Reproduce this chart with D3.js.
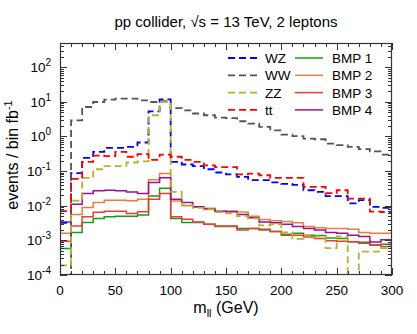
<!DOCTYPE html>
<html><head><meta charset="utf-8">
<script src="https://cdn.jsdelivr.net/npm/d3@7"></script>
<style>
body{margin:0;background:#fff}
text{font-family:"Liberation Sans",Arial,sans-serif;fill:#000}
</style>
</head><body>
<svg id="c" width="417" height="334"></svg>
<script>
// ---- data (10 GeV bins, 0..300 GeV) ----
const binEdges = d3.range(0, 301, 10);
const WZ = [0.0032,0.087,0.24,0.36,0.47,0.47,0.50,0.67,5.3,11.8,0.185,0.155,0.14,0.113,0.091,0.080,0.068,0.055,0.055,0.047,0.043,0.040,0.028,0.025,0.019,0.019,0.0117,0.0145,0.0093,0.0087];
const WW = [0,2.9,7.1,9.9,11.6,12.4,12.4,11.0,9.9,10.5,6.6,5.7,4.6,4.1,3.5,3.4,2.75,2.35,1.9,1.5,1.13,1.03,0.87,0.83,0.62,0.56,0.50,0.43,0.37,0.30];
const ZZ = [0.00019,0.014,0.064,0.113,0.14,0.14,0.177,0.19,4.1,9.9,0.025,0.0104,0.0087,0.0080,0.0065,0.0060,0.0050,0.0043,0.0027,0.0029,0.0017,0.0011,0.0014,0.0013,0.0006,0.0013,0,0.00047,0.00047,0.0006];
const TT = [0.007,0.06,0.185,0.28,0.27,0.36,0.26,0.31,0.21,0.30,0.26,0.21,0.185,0.146,0.13,0.13,0.080,0.085,0.076,0.064,0.064,0.064,0.035,0.035,0.023,0.028,0.016,0.016,0.0068,0.0066];
const BMP1 = [0.00058,0.0017,0.0033,0.0043,0.0048,0.0050,0.0050,0.0054,0.019,0.032,0.0043,0.0033,0.0033,0.0029,0.0025,0.0025,0.0022,0.0022,0.0021,0.0018,0.0014,0.0016,0.0014,0.00138,0.00118,0.00114,0.00091,0.00088,0.00074,0.00077];
const BMP2 = [0.0016,0.0056,0.0089,0.0124,0.0145,0.0145,0.014,0.0155,0.056,0.085,0.0136,0.0100,0.0092,0.0078,0.0068,0.0070,0.0066,0.0050,0.0040,0.0037,0.0035,0.0032,0.0025,0.0023,0.0022,0.0022,0.0021,0.0017,0.0016,0.0016];
const BMP3 = [0.00094,0.0026,0.0048,0.0065,0.0069,0.0069,0.0060,0.0067,0.0155,0.0226,0.0048,0.0041,0.0034,0.0029,0.0026,0.0026,0.0020,0.0022,0.0020,0.0018,0.0015,0.0014,0.00126,0.00114,0.00098,0.00094,0.00091,0.00082,0.00074,0.00066];
const BMP4 = [0.0034,0.011,0.0226,0.027,0.028,0.027,0.025,0.0226,0.047,0.064,0.0155,0.0124,0.0093,0.0083,0.0069,0.0067,0.0056,0.0045,0.0034,0.0032,0.0029,0.0025,0.0022,0.0020,0.0017,0.0016,0.0014,0.0013,0.0009,0.00105];
const xTickValues = [0,50,100,150,200,250,300];
const yTickExponents = [-4,-3,-2,-1,0,1,2];

const backgrounds = [
  {name:"WZ", values:WZ, color:"#0000ff"},
  {name:"WW", values:WW, color:"#555555"},
  {name:"ZZ", values:ZZ, color:"#b4b42c"},
  {name:"tt", values:TT, color:"#ff0000"}
];
const signals = [
  {name:"BMP 1", values:BMP1, color:"#10a010"},
  {name:"BMP 2", values:BMP2, color:"#e8803c"},
  {name:"BMP 3", values:BMP3, color:"#f03a3a"},
  {name:"BMP 4", values:BMP4, color:"#9a109a"}
];

// ---- layout ----
const L=60, R=392, T=43, B=275;
const svg = d3.select("#c");
const x = d3.scaleLinear().domain([0,300]).range([L,R]);
const y = d3.scaleLog().domain([1e-4,500]).range([B,T]);
const yv = v => v > 0 ? y(v) : y(1e-7);

svg.append("defs").append("clipPath").attr("id","clip")
  .append("rect").attr("x",L).attr("y",T).attr("width",R-L).attr("height",B-T);

const line = d3.line().curve(d3.curveStepAfter).x(d=>x(d[0])).y(d=>yv(d[1]));
const pts = vals => binEdges.map((e,i)=>[e, vals[Math.min(i, vals.length-1)]]);

const g = svg.append("g").attr("clip-path","url(#clip)");
signals.forEach(s=>{
  g.append("path").attr("d",line(pts(s.values))).attr("fill","none")
   .attr("stroke",s.color).attr("stroke-width",1.5);
});
backgrounds.forEach(s=>{
  g.append("path").attr("d",line(pts(s.values))).attr("fill","none")
   .attr("stroke",s.color).attr("stroke-width",1.8).attr("stroke-dasharray","7,4");
});

// ---- frame and ticks ----
const axCol = "#333";
svg.append("rect").attr("x",L+0.5).attr("y",T+0.5).attr("width",R-L-1).attr("height",B-T-1)
  .attr("fill","none").attr("stroke",axCol).attr("stroke-width",1.2);

const xMinor = d3.range(0,301,10);
xMinor.forEach(v=>{
  const major = v % 50 === 0;
  const len = major ? 7 : 4;
  const px = Math.round(x(v))+0.5;
  svg.append("line").attr("x1",px).attr("x2",px).attr("y1",B).attr("y2",B-len).attr("stroke",axCol);
  svg.append("line").attr("x1",px).attr("x2",px).attr("y1",T).attr("y2",T+len).attr("stroke",axCol);
});
const yAll = [];
for (let e=-4; e<=2; e++) for (let m=1; m<=9; m++) { const v=m*Math.pow(10,e); if (v<=500) yAll.push([v,m===1]); }
yAll.forEach(([v,major])=>{
  const len = major ? 7 : 4;
  const py = Math.round(y(v))+0.5;
  svg.append("line").attr("x1",L).attr("x2",L+len).attr("y1",py).attr("y2",py).attr("stroke",axCol);
  svg.append("line").attr("x1",R).attr("x2",R-len).attr("y1",py).attr("y2",py).attr("stroke",axCol);
});

// x tick labels
svg.append("g").selectAll("text").data(xTickValues).join("text")
  .attr("x",d=>x(d)).attr("y",B+20).attr("text-anchor","middle")
  .attr("font-size",13.5).text(d=>d);

// y tick labels
yTickExponents.forEach(e=>{
  const t = svg.append("text").attr("x",51).attr("y",y(Math.pow(10,e))+5)
    .attr("text-anchor","end").attr("font-size",13.5);
  t.append("tspan").text("10");
  t.append("tspan").attr("dy",-6).attr("font-size",10).text(e);
});

// axis titles
const xl = svg.append("text").attr("x",226).attr("y",313).attr("text-anchor","middle").attr("font-size",16);
xl.append("tspan").text("m");
xl.append("tspan").attr("dy",4).attr("font-size",11).text("ll");
xl.append("tspan").attr("dy",-4).text(" (GeV)");

const yl = svg.append("text").attr("transform","translate(18,155) rotate(-90)")
  .attr("text-anchor","middle").attr("font-size",16);
yl.append("tspan").text("events / bin fb");
yl.append("tspan").attr("dy",-6).attr("font-size",11).text("-1");

// title
const tt = svg.append("text").attr("x",226).attr("y",27).attr("text-anchor","middle").attr("font-size",15);
tt.append("tspan").text("pp collider, ");
tt.append("tspan").text("\u221As");
tt.append("tspan").text(" = 13 TeV, 2 leptons");

// legend
const rowY = i => 58 + i*17.3;
backgrounds.forEach((s,i)=>{
  svg.append("line").attr("x1",228).attr("x2",257).attr("y1",rowY(i)).attr("y2",rowY(i))
    .attr("stroke",s.color).attr("stroke-width",1.8).attr("stroke-dasharray","7,4");
  svg.append("text").attr("x",265).attr("y",rowY(i)+5).attr("font-size",13.5).text(s.name);
});
signals.forEach((s,i)=>{
  svg.append("line").attr("x1",295).attr("x2",323).attr("y1",rowY(i)).attr("y2",rowY(i))
    .attr("stroke",s.color).attr("stroke-width",1.5);
  svg.append("text").attr("x",332).attr("y",rowY(i)+5).attr("font-size",13.5).text(s.name);
});
</script>
</body></html>
